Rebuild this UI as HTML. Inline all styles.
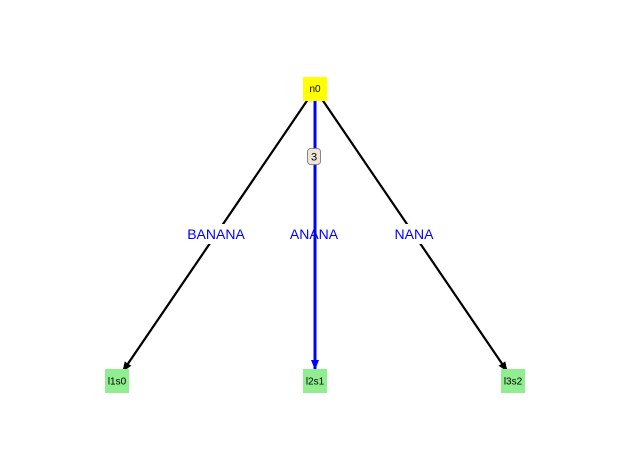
<!DOCTYPE html>
<html><head><meta charset="utf-8"><style>html,body{margin:0;padding:0;background:#fff}</style></head>
<body>
<svg width="630" height="470" xmlns="http://www.w3.org/2000/svg" font-family="Liberation Sans, DejaVu Sans, sans-serif">
<defs>
<marker id="ak" markerWidth="10" markerHeight="10" refX="9" refY="5" orient="auto" markerUnits="userSpaceOnUse"><path d="M0,1 L10,5 L0,9 z" fill="#000"/></marker>
<marker id="ab" markerWidth="10" markerHeight="10" refX="9" refY="5" orient="auto" markerUnits="userSpaceOnUse"><path d="M0,1 L10,5 L0,9 z" fill="#00f"/></marker>
</defs>
<line x1="315" y1="89" x2="123" y2="371" stroke="#000" stroke-width="2.2" marker-end="url(#ak)"/>
<line x1="315" y1="89" x2="507" y2="371" stroke="#000" stroke-width="2.2" marker-end="url(#ak)"/>
<rect x="183" y="224" width="66" height="20" fill="#fff"/>
<text x="216" y="239" font-size="14" fill="#00f" text-anchor="middle">BANANA</text>
<rect x="390" y="224" width="48" height="20" fill="#fff"/>
<text x="414" y="239" font-size="14" fill="#00f" text-anchor="middle">NANA</text>
<text x="314" y="239" font-size="14" fill="#00f" text-anchor="middle">ANANA</text>
<line x1="315" y1="101" x2="315" y2="369" stroke="#00f" stroke-width="3" marker-end="url(#ab)"/>
<rect x="303" y="77" width="24" height="24" fill="#ffff00"/>
<text x="315" y="92" font-size="10" text-anchor="middle">n0</text>
<rect x="105" y="369" width="24" height="24" fill="#90ee90"/>
<text x="117" y="384.5" font-size="10" text-anchor="middle">l1s0</text>
<rect x="303" y="369" width="24" height="24" fill="#90ee90"/>
<text x="315" y="384.5" font-size="10" text-anchor="middle">l2s1</text>
<rect x="501" y="369" width="24" height="24" fill="#90ee90"/>
<text x="513" y="384.5" font-size="10" text-anchor="middle">l3s2</text>
<rect x="307.5" y="148.5" width="13" height="16" rx="3" fill="#eee4d8" stroke="#888" stroke-width="1"/>
<text x="314" y="160.5" font-size="11" text-anchor="middle">3</text>
</svg>
</body></html>
